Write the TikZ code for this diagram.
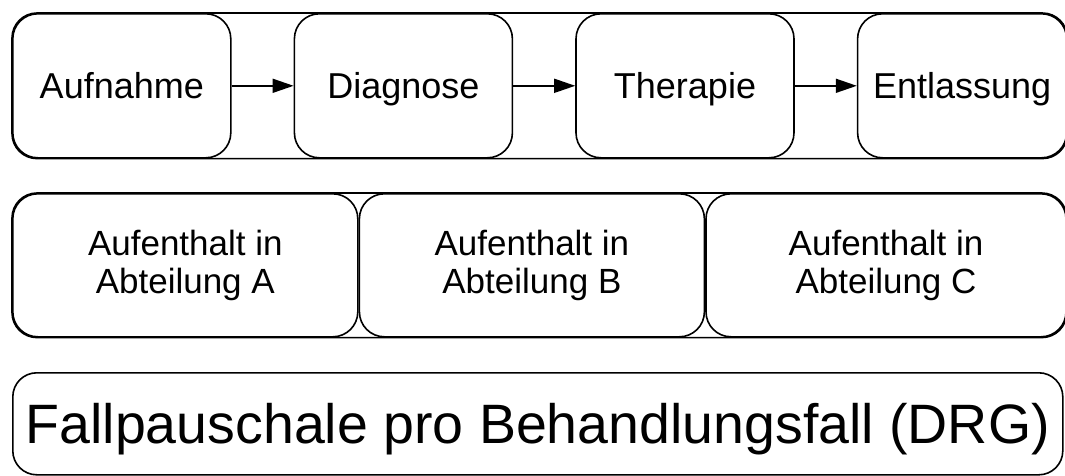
\documentclass[tikz,border=0pt]{standalone}
\usepackage{fontspec}
\setmainfont{Liberation Sans}
\usetikzlibrary{arrows.meta,positioning}

\begin{document}
\begin{tikzpicture}[x=1pt, y=-1pt, >={Triangle[length=21pt,width=14pt]}, node distance=62pt, line width=1.6pt,
    step box/.style={draw, rounded corners=25pt, minimum width=218pt, minimum height=144pt, inner sep=0pt, text height=32.4pt, text depth=6.6pt, font=\fontsize{36}{40}\selectfont},
    stay box/.style={draw, rounded corners=25pt, minimum width=345pt, minimum height=143pt, inner sep=0pt, align=center, font=\fontsize{35}{38}\selectfont},
    case box/.style={draw, rounded corners=24pt, minimum width=1050pt, minimum height=102pt, inner sep=0pt, text height=50pt, text depth=10.2pt, font=\fontsize{55.5}{60}\selectfont}]
    \useasboundingbox (0,0) rectangle (1065,476);

    % Behandlungsschritte
    \node[step box, anchor=north west]  (aufnahme)    at (12,13)   {Aufnahme};
    \node[step box]                     (diagnose)    [right=of aufnahme]   {Diagnose};
    \node[step box]                     (therapie)    [right=of diagnose]   {Therapie};
    \node[step box, minimum width=209pt] (entlassung) [right=of therapie]   {Entlassung};
    \draw[rounded corners=25pt] (aufnahme.north west) rectangle (entlassung.south east);

    \path[->]   (aufnahme)   edge   (diagnose)
                (diagnose)   edge   (therapie)
                (therapie)   edge   (entlassung);

    % Abteilungen
    \node[stay box, anchor=north west]  (abtA)   at (12,193)   {Aufenthalt in\\Abteilung A};
    \node[stay box]                     (abtB)   [right=0pt of abtA]   {Aufenthalt in\\Abteilung B};
    \node[stay box, minimum width=360pt] (abtC)  [right=0pt of abtB]   {Aufenthalt in\\Abteilung C};
    \draw[rounded corners=25pt] (abtA.north west) rectangle (abtC.south east);

    % Abrechnung
    \node[case box, anchor=north west]  (drg)    at (12,372)   {Fallpauschale pro Behandlungsfall (DRG)};
\end{tikzpicture}
\end{document}
